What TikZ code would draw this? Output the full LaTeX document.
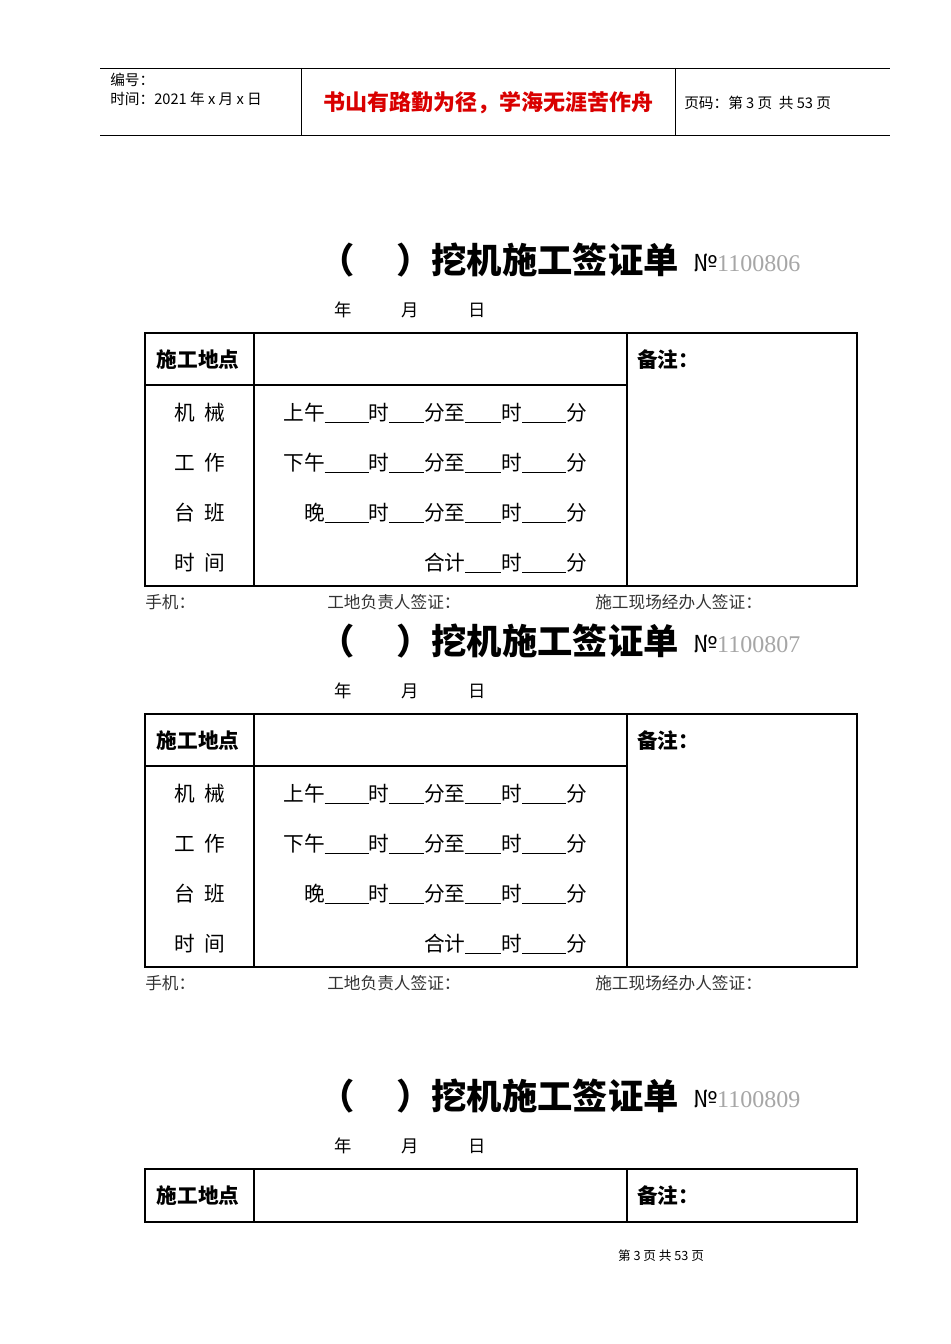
\documentclass[tikz,border=0pt]{standalone}
\usepackage{fontspec}
\setmainfont{Liberation Serif}
\newfontfamily\cjk{Noto Sans CJK SC}
\newcommand{\bl}[1]{\underline{\hspace{#1}}}
\begin{document}
\begin{tikzpicture}[x=0.75pt,y=-0.75pt,
  hd/.style={font=\cjk\fontsize{11}{13}\selectfont,anchor=west,inner sep=0},
  cell/.style={font=\cjk\fontsize{15.5}{18}\selectfont,inner sep=0},
  ttl/.style={font=\cjk\bfseries\fontsize{26.5}{30}\selectfont,inner sep=0},
  sig/.style={font=\cjk\fontsize{12.5}{15}\selectfont,text=black!80,anchor=west,inner sep=0},
  thick2/.style={line width=1.6pt}]
\useasboundingbox (0,0) rectangle (950,1344);
\fill[white] (0,0) rectangle (950,1344);
% header
\draw[line width=0.6pt] (100,68) -- (890,68);
\draw[line width=0.6pt] (100,135) -- (890,135);
\draw[line width=0.6pt] (301,68) -- (301,135);
\draw[line width=0.6pt] (675,68) -- (675,135);
\node[hd] (h1) at (110,80) {编号：};
\node[hd] (h2) at (110,99) {时间：2021 年 x 月 x 日};
\node[font=\cjk\bfseries\fontsize{16.5}{19}\selectfont,text=red!85!black,inner sep=0] (h3) at (488,103) {书山有路勤为径，学海无涯苦作舟};
\node[hd] (h4) at (684,103) {页码：第 3 页\ \ 共 53 页};
% forms
\foreach \o/\num/\full in {0/1100806/1,381/1100807/1,836/1100809/0}{
  \begin{scope}[yshift=-\o*0.75pt]
  \node[ttl] (t1) at (337,260) {（};
  \node[ttl,anchor=west] (t2) at (396,260) {）挖机施工签证单};
  \node[anchor=west,inner sep=0,font=\fontsize{18}{20}\selectfont] (t3) at (693,263) {\cjk №\textcolor{black!35}{\rmfamily\num}};
  \node[cell,font=\cjk\fontsize{13}{15}\selectfont] (d1) at (343,310) {年};
  \node[cell,font=\cjk\fontsize{13}{15}\selectfont] (d2) at (410,310) {月};
  \node[cell,font=\cjk\fontsize{13}{15}\selectfont] (d3) at (477,310) {日};
  \ifnum\full=1
    \draw[thick2] (145,333) rectangle (857,586);
    \draw[line width=1pt] (254,333) -- (254,586);
    \draw[line width=1pt] (627,333) -- (627,586);
    \draw[line width=1pt] (145,385) -- (627,385);
    \node[cell,font=\cjk\bfseries\fontsize{15.5}{18}\selectfont] (c1) at (198,360) {施工地点};
    \node[cell,font=\cjk\bfseries\fontsize{15.5}{18}\selectfont,anchor=west] (c2) at (637,360) {备注：};
    \node[cell] (l1) at (200,413) {机\ \ 械};
    \node[cell] (l2) at (200,463) {工\ \ 作};
    \node[cell] (l3) at (200,513) {台\ \ 班};
    \node[cell] (l4) at (200,563) {时\ \ 间};
    \node[cell,anchor=east] (m1) at (587,413) {上午\bl{33pt}时\bl{26pt}分至\bl{27pt}时\bl{33pt}分};
    \node[cell,anchor=east] (m2) at (587,463) {下午\bl{33pt}时\bl{26pt}分至\bl{27pt}时\bl{33pt}分};
    \node[cell,anchor=east] (m3) at (587,513) {晚\bl{33pt}时\bl{26pt}分至\bl{27pt}时\bl{33pt}分};
    \node[cell,anchor=east] (m4) at (587,563) {合计\bl{27pt}时\bl{33pt}分};
    \node[sig] (s1) at (145,602) {手机：};
    \node[sig] (s2) at (327,602) {工地负责人签证：};
    \node[sig] (s3) at (595,602) {施工现场经办人签证：};
  \else
    \draw[thick2] (145,333) rectangle (857,386);
    \draw[line width=1pt] (254,333) -- (254,386);
    \draw[line width=1pt] (627,333) -- (627,386);
    \node[cell,font=\cjk\bfseries\fontsize{15.5}{18}\selectfont] (c1) at (198,360) {施工地点};
    \node[cell,font=\cjk\bfseries\fontsize{15.5}{18}\selectfont,anchor=west] (c2) at (637,360) {备注：};
  \fi
  \end{scope}
}
\node[font=\cjk\fontsize{9.5}{11}\selectfont,inner sep=0] (ft) at (661,1256) {第\ 3\ 页\ 共\ 53\ 页};
\end{tikzpicture}
\end{document}
